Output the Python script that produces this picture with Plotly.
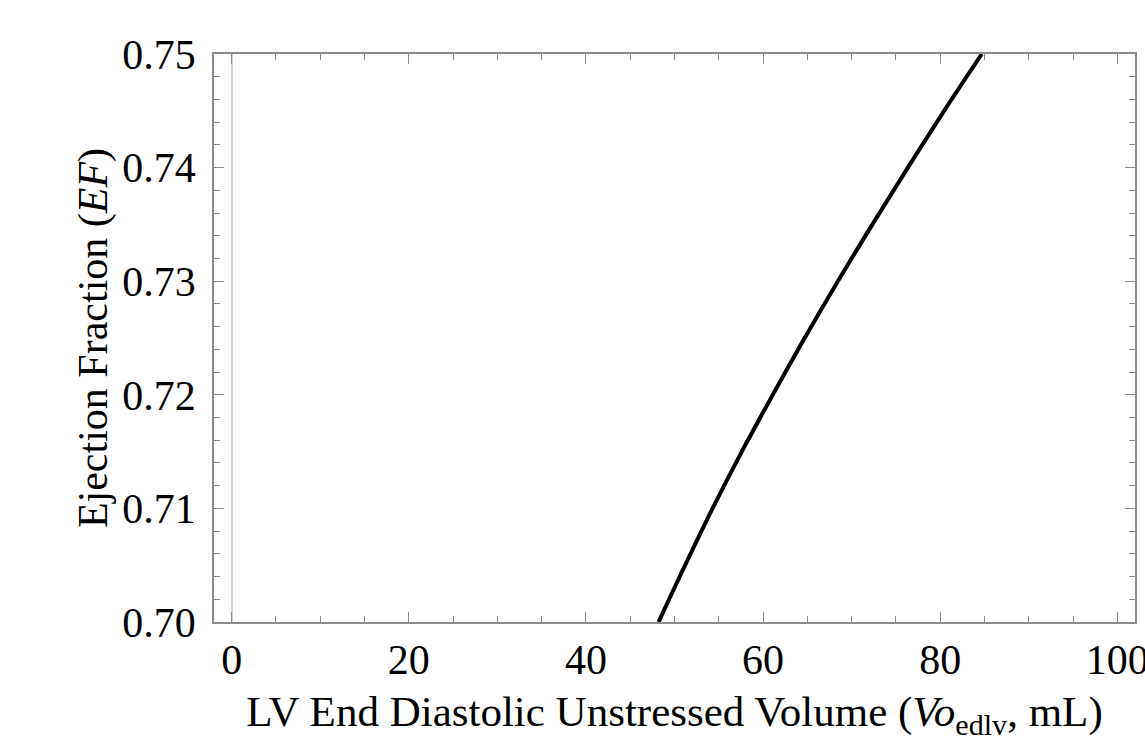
import plotly.graph_objects as go

# Ejection fraction versus LV end-diastolic unstressed volume
vo_edlv = [48.2, 51.2, 54.3, 57.6, 61.1, 64.7, 68.45, 72.35, 76.35, 80.45, 84.7]
ef = [0.700, 0.705, 0.710, 0.715, 0.720, 0.725, 0.730, 0.735, 0.740, 0.745, 0.750]

x_ticks = [0, 20, 40, 60, 80, 100]
y_ticks = [0.70, 0.71, 0.72, 0.73, 0.74, 0.75]
y_ticklabels = ["0.70", "0.71", "0.72", "0.73", "0.74", "0.75"]

frame = "#8a8a8a"
font = "Liberation Serif"

fig = go.Figure()
fig.add_trace(go.Scatter(
    x=vo_edlv, y=ef, mode="lines",
    line=dict(color="black", width=4, shape="spline", smoothing=1.0),
    showlegend=False,
))

axis_common = dict(
    showgrid=False, showline=True, linecolor=frame, linewidth=1.5,
    mirror="ticks", ticks="inside", tickcolor=frame, tickwidth=1.3, ticklen=10,
    tickfont=dict(family=font, size=42, color="black"),
    ticklabeloverflow="allow", automargin=False,
)

fig.update_xaxes(
    range=[-2, 102], tickvals=x_ticks, ticklabelstandoff=0,
    zeroline=True, zerolinecolor="#d0d0d0", zerolinewidth=1.5,
    minor=dict(dtick=5, tick0=0, ticks="inside", ticklen=6, tickcolor=frame, tickwidth=1.2),
    title=dict(text="LV End Diastolic Unstressed Volume (<i>Vo</i><sub>edlv</sub>, mL)",
               font=dict(family=font, size=43, color="black"), standoff=14),
    **axis_common,
)
fig.update_yaxes(
    range=[0.70, 0.75], tickvals=y_ticks, ticktext=y_ticklabels, zeroline=False,
    ticklabelstandoff=8,
    minor=dict(dtick=0.002, tick0=0.70, ticks="inside", ticklen=6, tickcolor=frame, tickwidth=1.2),
    title=dict(text="Ejection Fraction (<i>EF</i>)",
               font=dict(family=font, size=42, color="black"), standoff=2),
    **axis_common,
)

fig.update_layout(
    width=1145, height=751,
    margin=dict(l=214, r=10, t=54, b=129),
    plot_bgcolor="white", paper_bgcolor="white",
)

fig.write_html("out.html")
